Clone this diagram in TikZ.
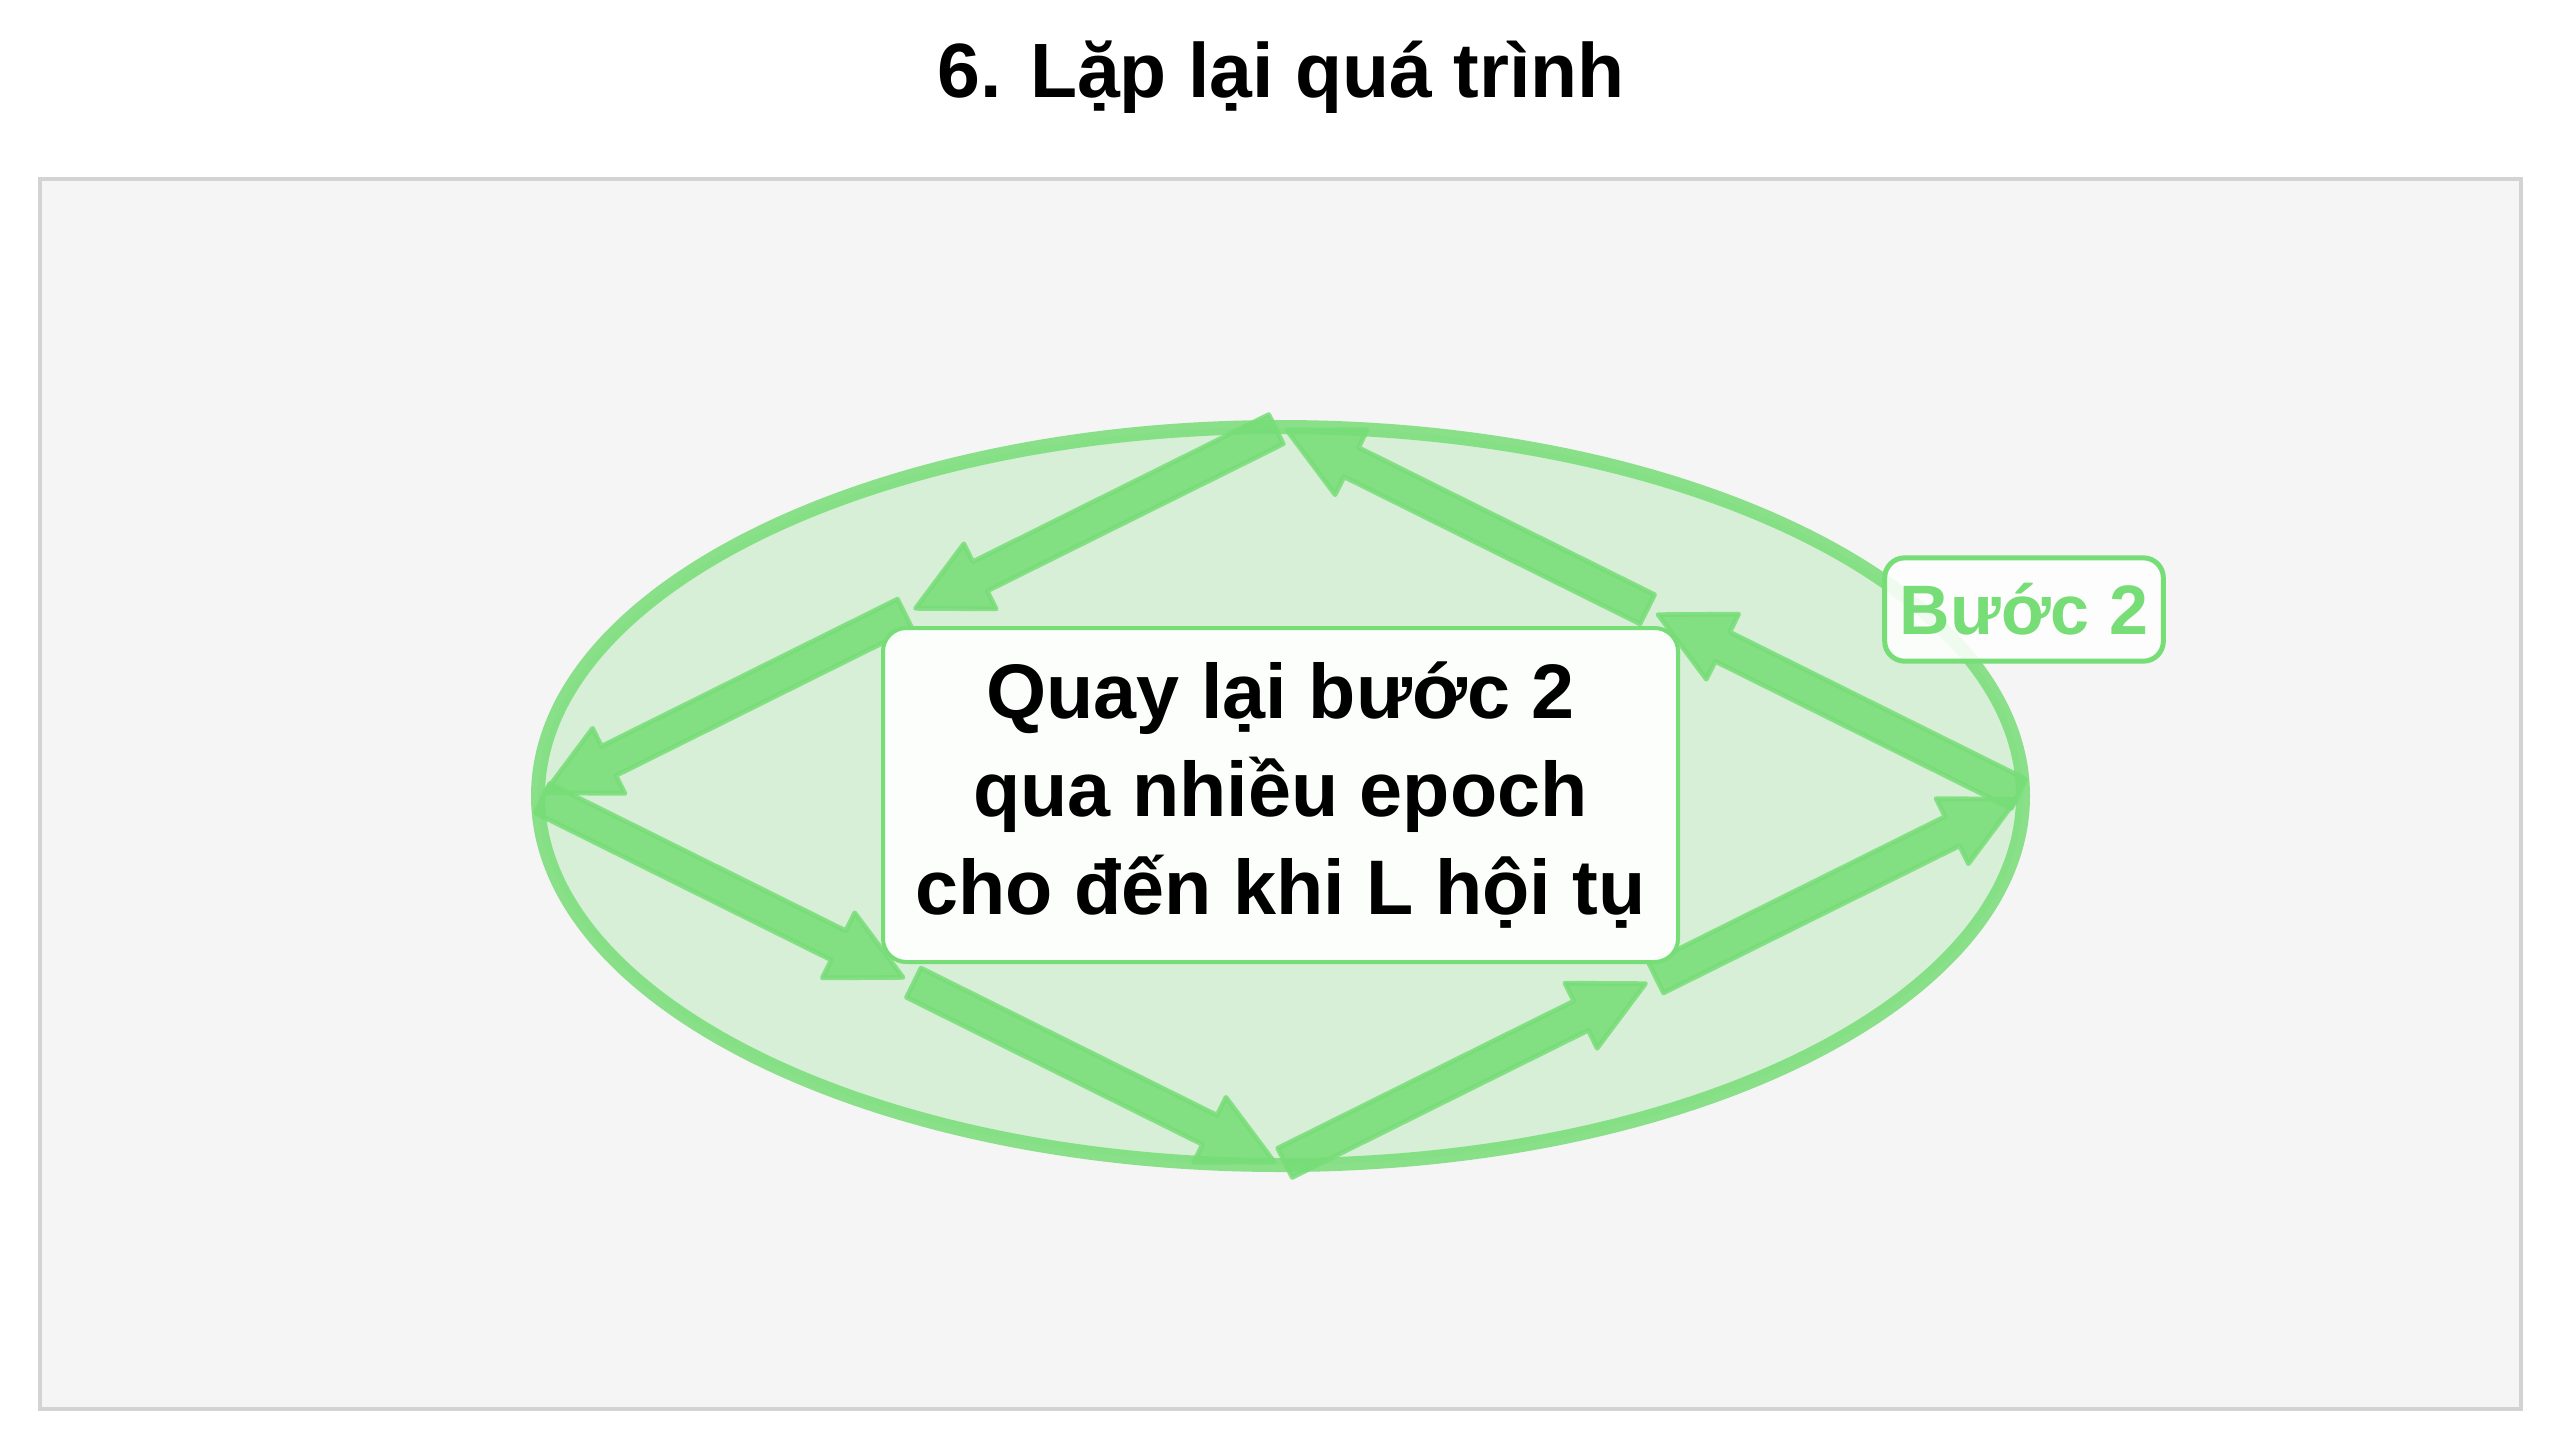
\documentclass[tikz,border=0pt]{standalone}
\usepackage{fontspec}
\setmainfont{Liberation Sans}
\usetikzlibrary{calc}
\definecolor{pg}{HTML}{77DD77}
\definecolor{panelbg}{HTML}{F5F5F5}
\definecolor{panelline}{HTML}{D3D3D3}
\tikzset{
  flowarrow/.style={draw=pg, fill=pg, draw opacity=0.85, fill opacity=0.88, line width=1.4pt, line join=round},
  titletext/.style={font=\fontsize{23.1pt}{28pt}\selectfont\bfseries, text=black, anchor=base},
  centerbox/.style={draw=pg, fill=white, fill opacity=0.95, text opacity=1, line width=1.2pt, rounded corners=7pt,
    minimum width=238.5pt, minimum height=100.2pt, align=center, inner sep=0pt,
    font=\fontsize{23.2pt}{29.5pt}\selectfont\bfseries, text=black},
  labelbox/.style={draw=pg, fill=white, fill opacity=0.88, text opacity=1, line width=1.5pt, rounded corners=6pt,
    minimum width=83.6pt, minimum height=31pt, inner sep=0pt,
    font=\fontsize{21pt}{25pt}\selectfont\bfseries, text=pg}
}
\newcommand{\greenarrow}[2]{%
  \coordinate (gs) at ($(#1)!1.5pt!(#2)$);
  \coordinate (ge) at ($(#2)!2.1pt!(#1)$);
  \coordinate (gn) at ($(ge)!21.6pt!(gs)$);
  \draw[flowarrow] ($(gs)!4.9pt!90:(ge)$) -- ($(gn)!4.9pt!90:(ge)$) -- ($(gn)!10.9pt!90:(ge)$) -- (ge)
    -- ($(gn)!10.9pt!-90:(ge)$) -- ($(gn)!4.9pt!-90:(ge)$) -- ($(gs)!4.9pt!-90:(ge)$) -- cycle;
}
\begin{document}
\begin{tikzpicture}[x=0.3pt,y=-0.3pt]
\useasboundingbox (0,0) rectangle (2560,1451);
\fill[white] (0,0) rectangle (2560,1451);
% panel
\draw[draw=panelline, fill=panelbg, line width=1.2pt] (39.5,178.5) rectangle (2521,1409);
% title
\node[titletext] (title) at (1281,97) {6. Lặp lại quá trình};
% ellipse
\draw[draw=pg, draw opacity=0.85, fill=pg, fill opacity=0.24, line width=4.2pt]
  (1280.5,796) ellipse [x radius=222.75pt, y radius=110.7pt];
% loop points
\coordinate (T) at (1280.5,427);
\coordinate (L) at (538,796);
\coordinate (B) at (1280.5,1165);
\coordinate (R) at (2023,796);
\coordinate (MTL) at ($(T)!0.5!(L)$);
\coordinate (MLB) at ($(L)!0.5!(B)$);
\coordinate (MBR) at ($(B)!0.5!(R)$);
\coordinate (MRT) at ($(R)!0.5!(T)$);
% arrows
\greenarrow{T}{MTL}
\greenarrow{MTL}{L}
\greenarrow{L}{MLB}
\greenarrow{MLB}{B}
\greenarrow{B}{MBR}
\greenarrow{MBR}{R}
\greenarrow{R}{MRT}
\greenarrow{MRT}{T}
% center box
\node[centerbox] (center) at (1280.5,795) {Quay lại bước 2\\qua nhiều epoch\\cho đến khi L hội tụ};
% label
\node[labelbox] (step) at (2024,609.5) {Bước 2};
\end{tikzpicture}
\end{document}
